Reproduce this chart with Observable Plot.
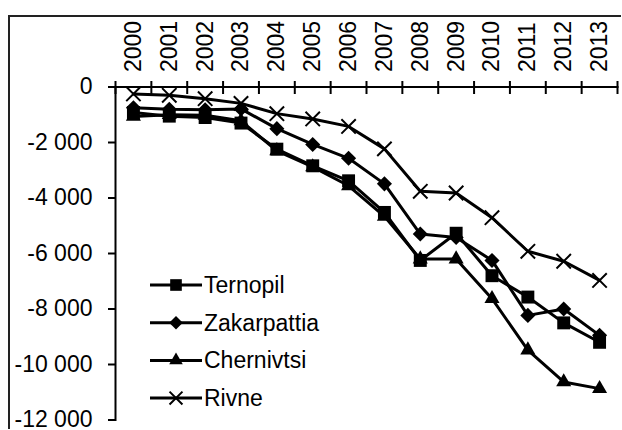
<!DOCTYPE html>
<html>
<head>
<meta charset="utf-8">
<script src="https://cdn.jsdelivr.net/npm/d3@7"></script>
<script src="https://cdn.jsdelivr.net/npm/@observablehq/plot@0.6"></script>
<style>
  body { margin: 0; background: #fff; }
  #wrap { position: relative; width: 622px; height: 430px; overflow: hidden; background: #fff; font-family: "Liberation Sans", Arial, sans-serif; }
  #chart { position: absolute; left: 0; top: 0; }
</style>
</head>
<body>
<div id="wrap">
  <div id="chart"></div>
</div>
<script>
// ---- data ----
const years = [2000, 2001, 2002, 2003, 2004, 2005, 2006, 2007, 2008, 2009, 2010, 2011, 2012, 2013];
const seriesNames = ["Ternopil", "Zakarpattia", "Chernivtsi", "Rivne"];
const ternopil    = [-920, -1050, -1100, -1300, -2240, -2840, -3380, -4520, -6250, -5270, -6800, -7570, -8500, -9200];
const zakarpattia = [-750, -800, -820, -790, -1500, -2070, -2570, -3490, -5300, -5420, -6250, -8230, -8000, -8950];
const chernivtsi  = [-1060, -1000, -1020, -1220, -2300, -2880, -3560, -4660, -6200, -6200, -7630, -9480, -10630, -10870];
const rivne       = [-250, -300, -420, -590, -960, -1150, -1420, -2230, -3760, -3820, -4710, -5920, -6280, -6970];
const yTicks = [0, -2000, -4000, -6000, -8000, -10000, -12000];

const valuesBySeries = [ternopil, zakarpattia, chernivtsi, rivne];
const table = [];
seriesNames.forEach((name, si) => {
  years.forEach((yr, i) => table.push({series: name, year: yr, value: valuesBySeries[si][i]}));
});
const boundaries = years.map(y => y - 0.5).concat([years[years.length - 1] + 0.5]);

const fmt = v => d3.format(",")(v).replace(/,/g, " ").replace("\u2212", "-");
const symbolOf = {Ternopil: "square", Zakarpattia: "diamond2", Chernivtsi: "triangle", Rivne: "times"};
const rOf = {Ternopil: 7.3, Zakarpattia: 6.8, Chernivtsi: 5.6, Rivne: 6.6};

const dotMarks = seriesNames.map(name => {
  const sub = table.filter(d => d.series === name);
  if (name === "Rivne") {
    return Plot.dot(sub, {x: "year", y: "value", symbol: () => symbolOf[name], r: rOf[name], stroke: "black", strokeWidth: 2, fill: "none"});
  }
  return Plot.dot(sub, {x: "year", y: "value", symbol: () => symbolOf[name], r: rOf[name], fill: "black", stroke: "none"});
});

// outer chart-area border (left and top edges), kept fully inside the canvas
const borderMark = (index, scales, values, dims) => {
  const p = document.createElementNS("http://www.w3.org/2000/svg", "path");
  p.setAttribute("d", `M9,${dims.height - 1}V16H${dims.width - 1}`);
  p.setAttribute("fill", "none");
  p.setAttribute("stroke", "#222");
  p.setAttribute("stroke-width", "2");
  return p;
};
const legendMark = () => {
  const leg = d3.create("svg:g").attr("text-anchor", "start");
  const legX0 = 150, legX1 = 202, legText = 204, legY0 = 285, legStep = 37.7;
  seriesNames.forEach((name, i) => {
    const g = leg.append("g").attr("transform", `translate(0,${legY0 + i * legStep})`);
    g.append("line").attr("x1", legX0).attr("x2", legX1).attr("y1", 0).attr("y2", 0).attr("stroke", "black").attr("stroke-width", 3);
    const symType = {square: d3.symbolSquare, diamond2: d3.symbolDiamond2, triangle: d3.symbolTriangle, times: d3.symbolTimes}[symbolOf[name]];
    const rr = rOf[name] * 0.9;
    const path = d3.symbol(symType, Math.PI * rr * rr)();
    const p = g.append("path").attr("d", path).attr("transform", `translate(${(legX0 + legX1) / 2},0)`);
    if (name === "Rivne") p.attr("fill", "none").attr("stroke", "black").attr("stroke-width", 2);
    else p.attr("fill", "black");
    g.append("text").attr("x", legText).attr("y", 0).attr("dy", "0.35em").attr("text-anchor", "start")
      .attr("font-size", 23).attr("fill", "black").text(name);
  });
  return leg.node();
};

const chart = Plot.plot({
  width: 622,
  height: 430,
  marginLeft: 115,
  marginRight: 5,
  marginTop: 86.5,
  marginBottom: 10.5,
  style: {fontFamily: "'Liberation Sans', Arial, sans-serif", background: "white", color: "black"},
  x: {type: "linear", domain: [boundaries[0], boundaries[boundaries.length - 1]]},
  y: {domain: [-12000, 0]},
  symbol: {type: "identity"},
  marks: [
    borderMark,
    Plot.frame({anchor: "left", stroke: "black", strokeWidth: 2}),
    Plot.frame({anchor: "top", stroke: "black", strokeWidth: 2}),
    Plot.axisY(yTicks, {anchor: "left", tickSize: 7, tickPadding: 16, tickFormat: fmt, fontSize: 23, strokeWidth: 2, label: null}),
    Plot.axisX(boundaries, {anchor: "top", tickSize: 13, dy: 6.5, tickFormat: () => "", strokeWidth: 2, label: null}),
    Plot.axisX(years, {anchor: "top", tickSize: 0, tickPadding: 15, tickRotate: -90, tickFormat: d => String(d), fontSize: 23, label: null}),
    Plot.line(table, {x: "year", y: "value", z: "series", stroke: "black", strokeWidth: 3}),
    ...dotMarks,
    legendMark
  ]
});
document.getElementById("chart").appendChild(chart);
</script>
</body>
</html>
